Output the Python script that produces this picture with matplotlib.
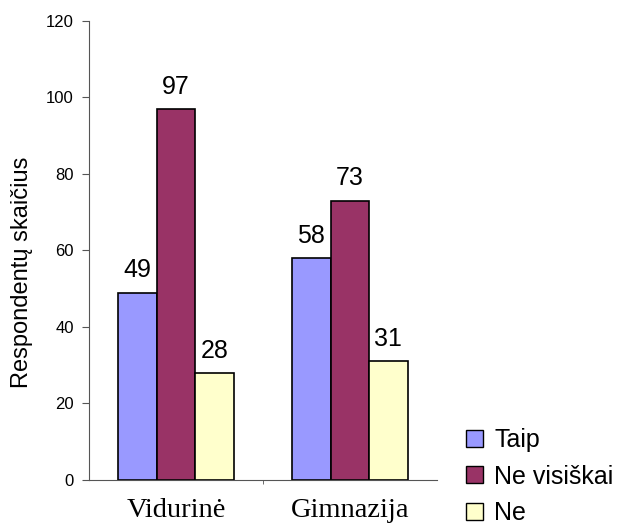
import matplotlib
matplotlib.use("Agg")
import matplotlib.pyplot as plt
import numpy as np

categories = ["Vidurinė", "Gimnazija"]
series = ["Taip", "Ne visiškai", "Ne"]
taip = [49, 58]
ne_visiskai = [97, 73]
ne = [28, 31]
colors = ["#9999FF", "#993366", "#FFFFCC"]

fig = plt.figure(figsize=(6.23, 5.24), dpi=100)
ax = fig.add_axes([0.143, 0.084, 0.558, 0.876])

x = np.arange(len(categories))
w = 0.222
for i, (vals, name) in enumerate(zip([taip, ne_visiskai, ne], series)):
    bars = ax.bar(x + (i - 1) * w, vals, w, color=colors[i], edgecolor="black",
                  linewidth=1.2, label=name)
    for b, v in zip(bars, vals):
        ax.annotate(str(v), (b.get_x() + b.get_width() / 2, v), xytext=(0, 11),
                    textcoords="offset points", ha="center", va="baseline",
                    fontsize=18, family="Liberation Sans")

ax.set_xlim(-0.5, 1.5)
ax.set_ylim(0, 120)
ax.set_yticks(range(0, 121, 20))
ax.tick_params(axis="y", labelsize=12, length=5, color="#555555", pad=6)
for t in ax.get_yticklabels():
    t.set_family("Liberation Sans")

ax.set_xticks(x)
ax.set_xticklabels(categories, family="Liberation Serif", fontsize=20.5)
ax.tick_params(axis="x", length=0, pad=13)
ax.set_xticks([0.5], minor=True)
ax.tick_params(axis="x", which="minor", length=3, color="#555555")

for s in ["top", "right"]:
    ax.spines[s].set_visible(False)
for s in ["left", "bottom"]:
    ax.spines[s].set_color("#555555")

ax.set_ylabel("Respondentų skaičius", fontsize=17, family="Liberation Sans")
ax.yaxis.set_label_coords(-0.16, 0.453)

leg = ax.legend(loc="upper left", bbox_to_anchor=(1.055, 0.135), frameon=False,
                prop={"family": "Liberation Sans", "size": 18},
                handlelength=0.68, handleheight=0.68, handletextpad=0.45,
                labelspacing=0.5, borderaxespad=0)
for h in leg.legend_handles:
    h.set_linewidth(1)

fig.savefig("out.png", dpi=100)
